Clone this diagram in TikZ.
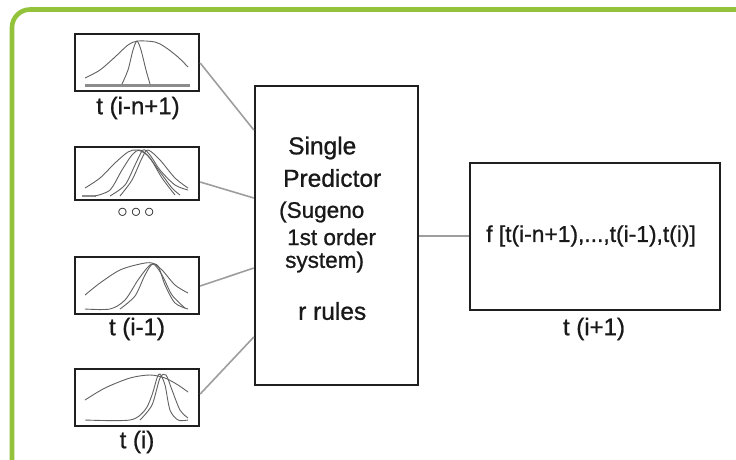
\documentclass[tikz,border=0pt]{standalone}
\usepackage{fontspec}
\setmainfont{Liberation Sans}
\newfontfamily\semib{Liberation Sans}[FakeBold=0.9]
\begin{document}
\begin{tikzpicture}[x=1pt,y=-1pt,
  box/.style={draw=black!88,line width=2.4pt,inner sep=0pt},
  link/.style={draw=black!38,line width=1.6pt},
  curve/.style={draw=black!62,line width=0.9pt},
  lbl/.style={font=\semib\fontsize{24}{26}\selectfont,inner sep=0pt,text=black!90},
  ptxt/.style={font=\semib\fontsize{24.5}{28}\selectfont,inner sep=0pt,anchor=west,text=black!90},
  stxt/.style={font=\semib\fontsize{22.5}{26}\selectfont,inner sep=0pt,anchor=west,text=black!90}]
\definecolor{frame}{RGB}{146,195,58}
\useasboundingbox (0,0) rectangle (736,459);
\fill[white] (0,0) rectangle (736,459);
\draw[frame,line width=4.6pt,rounded corners=18pt] (12,9.5) rectangle (770,490);

% small input boxes
\node[box,minimum width=124pt,minimum height=57pt] (b1) at (137,62.5) {};
\node[box,minimum width=124pt,minimum height=53pt] (b2) at (137,173.5) {};
\node[box,minimum width=124pt,minimum height=57pt] (b3) at (137,285.5) {};
\node[box,minimum width=124pt,minimum height=57pt] (b4) at (137,397.5) {};

\node[lbl] (l1) at (138,108) {t (i-n+1)};
\node[lbl,font=\fontsize{20}{20}\selectfont] (l2) at (136,213) {$\circ$\hspace{3pt}$\circ$\hspace{3pt}$\circ$};
\node[lbl] (l3) at (137,329) {t (i-1)};
\node[lbl] (l4) at (137,442) {t (i)};

% curves box 1
\draw[black!45,line width=3pt] (85,85) -- (190,85);
\draw[curve] plot[smooth] coordinates {(85,78) (100,70) (115,57) (128,45) (138,41) (155,42) (165,47) (178,57) (188,67)};
\draw[curve] plot[smooth] coordinates {(122,84) (128,70) (133,50) (137,41) (141,50) (146,70) (150,84)};
% curves box 2
\draw[black!45,line width=1.5pt] (82,196) -- (96,196);
\draw[curve] plot[smooth] coordinates {(85,188) (100,178) (115,163) (128,152) (137,150) (147,155) (160,172) (172,188) (180,195)};
\draw[curve] plot[smooth] coordinates {(95,196) (110,190) (122,170) (132,155) (140,150) (150,158) (162,178) (175,195)};
\draw[curve] plot[smooth] coordinates {(110,196) (125,185) (135,165) (143,150) (150,155) (160,170) (175,185) (188,190)};
\draw[curve] plot[smooth] coordinates {(120,196) (132,180) (142,158) (148,150) (160,160) (175,178) (188,188)};
% curves box 3
\draw[curve] plot[smooth] coordinates {(85,295) (100,283) (120,270) (140,264) (152,263) (162,270) (175,285) (188,293)};
\draw[curve] plot[smooth] coordinates {(85,309) (110,309) (125,300) (138,280) (150,265) (158,266) (165,285) (175,303) (188,309)};
\draw[curve] plot[smooth] coordinates {(120,309) (135,296) (145,275) (153,264) (162,275) (172,295) (185,308)};
% curves box 4
\draw[curve] plot[smooth] coordinates {(85,400) (105,388) (130,378) (150,375) (165,378) (178,385) (188,392)};
\draw[curve] plot[smooth] coordinates {(85,420) (130,420) (145,410) (152,395) (157,378) (160,374) (165,385) (170,410) (178,420) (188,420)};
\draw[curve] plot[smooth] coordinates {(140,420) (152,405) (160,378) (166,375) (172,390) (180,410) (188,418)};

% main predictor box
\node[box,minimum width=163pt,minimum height=299pt] (pred) at (336.5,235.5) {};
\node[ptxt] (t1) at (288,148) {Single};
\node[ptxt] (t2) at (283,178) {Predictor};
\node[stxt] (t3) at (279,212) {(Sugeno};
\node[stxt] (t4) at (287,237) {1st order};
\node[stxt] (t5) at (285,262) {system)};
\node[ptxt] (t6) at (298,311) {r rules};

% output box
\node[box,minimum width=250pt,minimum height=147pt] (out) at (595,236.5) {};
\node[stxt,font=\semib\fontsize{22.8}{26}\selectfont] (ft) at (486,236) {f [t(i-n+1),...,t(i-1),t(i)]};
\node[lbl] (l5) at (594,329) {t (i+1)};

% connectors
\draw[link] (b1.east |- 0,63) -- (pred.west |- 0,130);
\draw[link] (b2.east |- 0,182) -- (pred.west |- 0,198);
\draw[link] (b3.east |- 0,286) -- (pred.west |- 0,268);
\draw[link] (b4.east |- 0,394) -- (pred.west |- 0,337);
\draw[link] (pred.east |- 0,236) -- (out.west |- 0,236);
\end{tikzpicture}
\end{document}
